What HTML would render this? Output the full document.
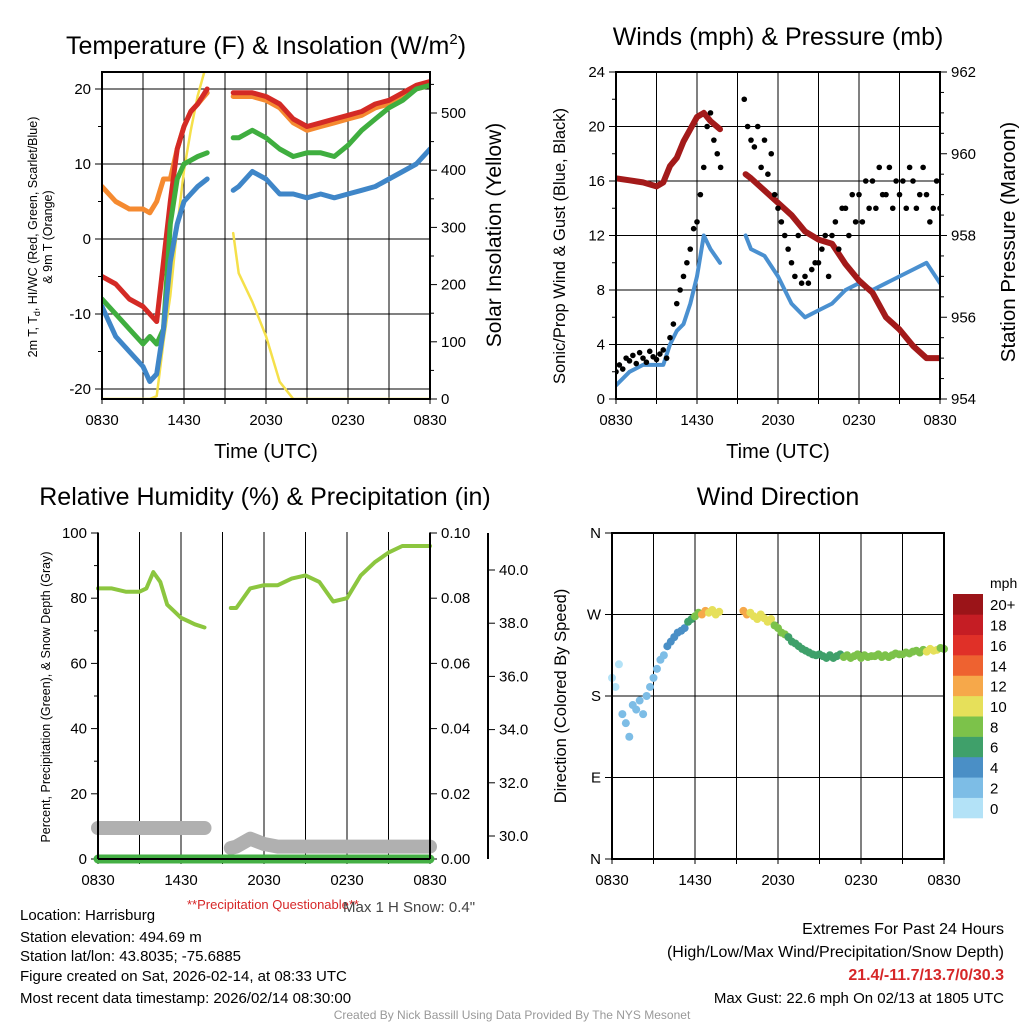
<!DOCTYPE html>
<html><head><meta charset="utf-8"><style>
html,body{margin:0;padding:0;background:#fff;}
svg{display:block;font-family:"Liberation Sans",Arial,sans-serif;}
</style></head><body>
<svg id="root" width="1024" height="1024" viewBox="0 0 1024 1024">
<defs>
<clipPath id="c1"><rect x="102" y="72" width="328" height="327"/></clipPath>
<clipPath id="c2"><rect x="616" y="72" width="324" height="327"/></clipPath>
<clipPath id="c3"><rect x="90" y="520" width="350" height="350"/></clipPath>
</defs>
<text x="266" y="54" font-size="25" text-anchor="middle">Temperature (F) &amp; Insolation (W/m<tspan dy="-10" font-size="15">2</tspan><tspan dy="10">)</tspan></text>
<text x="778" y="45" font-size="25" text-anchor="middle">Winds (mph) &amp; Pressure (mb)</text>
<text x="265" y="505" font-size="25" text-anchor="middle">Relative Humidity (%) &amp; Precipitation (in)</text>
<text x="778" y="505" font-size="25" text-anchor="middle">Wind Direction</text>
<g id="g"></g>
<text x="20" y="920" font-size="15">Location: Harrisburg</text>
<text x="20" y="942" font-size="15">Station elevation: 494.69 m</text>
<text x="20" y="961" font-size="15">Station lat/lon: 43.8035; -75.6885</text>
<text x="20" y="981" font-size="15">Figure created on Sat, 2026-02-14, at 08:33 UTC</text>
<text x="20" y="1003" font-size="15">Most recent data timestamp: 2026/02/14 08:30:00</text>
<text x="187" y="909" font-size="13" fill="#d62728">**Precipitation Questionable**</text>
<text x="343" y="912" font-size="15" fill="#444">Max 1 H Snow: 0.4"</text>
<text x="1004" y="934" font-size="16" text-anchor="end">Extremes For Past 24 Hours</text>
<text x="1004" y="957" font-size="16" text-anchor="end">(High/Low/Max Wind/Precipitation/Snow Depth)</text>
<text x="1004" y="980" font-size="16" font-weight="bold" fill="#d62728" text-anchor="end">21.4/-11.7/13.7/0/30.3</text>
<text x="1004" y="1003" font-size="15" text-anchor="end">Max Gust: 22.6 mph On 02/13 at 1805 UTC</text>
<text x="512" y="1019" font-size="12" fill="#999" text-anchor="middle">Created By Nick Bassill Using Data Provided By The NYS Mesonet</text>
</svg>
<script>
const hours=[0,1,2,3,3.5,4,4.5,5,5.5,6,6.5,7,7.7,9.6,10,11,12,13,14,15,16,17,18,19,20,21,22,23,24];
const tempRed=[-5,-6,-8,-9,-10,-11,-3,5,12,15,17,18,20,19.5,19.5,19.5,19,18,16,15,15.5,16,16.5,17,18,18.5,19.5,20.5,21];
const tempGreen=[-8,-10,-12,-14,-13,-14,-12,2,8,10,10.5,11,11.5,13.5,13.5,14.5,13.5,12,11,11.5,11.5,11,12.5,14.5,16,17.5,18.5,20,20.5];
const tempBlue=[-9,-13,-15,-17,-19,-18,-12,-3,2,5,6,7,8,6.5,7,9,8,6,6,5.5,6,5.5,6,6.5,7,8,9,10,12];
const tempOrange=[7,5,4,4,3.5,5,8,8,12,15,17,18,19.5,19,19,19,18.5,17.5,15.5,14.5,15,15.5,16,16.5,17.5,18,19,20,20.5];
const solar=[0,0,0,0,0,5,100,180,300,400,470,530,590,290,220,170,110,30,0,0,0,0,0,0,0,0,0,0,0];
const windSpeed=[1,2,2.5,2.5,2.5,4,5,5.5,7,9,12,11,10,12,11,10.5,9,7,6,6.5,7,8,8.5,8,8.5,9,9.5,10,8.5];
const pressure=[959.4,959.35,959.3,959.2,959.3,959.7,959.9,960.3,960.6,960.9,961.0,960.8,960.6,959.5,959.4,959.1,958.8,958.5,958.1,957.9,957.8,957.3,956.9,956.6,956.0,955.7,955.3,955.0,955.0];
const rh=[83,83,82,82,83,88,85,78,76,74,73,72,71,77,77,83,84,84,86,87,85,79,80,87,91,94,96,96,96];
const snowDepth=[30.3,30.3,30.3,30.3,30.3,30.3,30.3,30.3,30.3,30.3,30.3,30.3,30.3,29.55,29.6,29.9,29.7,29.6,29.6,29.6,29.6,29.6,29.6,29.6,29.6,29.6,29.6,29.6,29.6];
const precip=[0,0,0,0,0,0,0,0,0,0,0,0,0,0,0,0,0,0,0,0,0,0,0,0,0,0,0,0,0];
const fineHours=[0,0.25,0.5,0.75,1,1.25,1.5,1.75,2,2.25,2.5,2.75,3,3.25,3.5,3.75,4,4.25,4.5,4.75,5,5.25,5.5,5.75,6,6.25,6.5,6.75,7,7.25,7.5,7.75,
9.5,9.75,10,10.25,10.5,10.75,11,11.25,11.5,11.75,12,12.25,12.5,12.75,13,13.25,13.5,13.75,14,14.25,14.5,14.75,15,15.25,15.5,15.75,16,16.25,16.5,16.75,17,17.25,17.5,17.75,18,18.25,18.5,18.75,19,19.25,19.5,19.75,20,20.25,20.5,20.75,21,21.25,21.5,21.75,22,22.25,22.5,22.75,23,23.25,23.5,23.75,24];
const windGust=[2,2.5,2.2,3,2.8,3.2,2.6,3.4,3,2.7,3.5,3.1,2.9,3.3,3.6,3,4.5,5.5,7,8,9,10,11,12.5,13,15,17,20,21,19,18,17,
22,20,19,18.5,20,17,19,16.5,18,15,14,13,12,11,10,9,12,8.5,9,8.5,9.5,10,10,11,12,9,12,13,11,14,14,12,15,13,15,13,16,14,16,14,17,15,15,17,14,16,15,16,14,17,16,14,15,17,15,13,14,16,14];
const windDir=[200,190,215,160,150,135,170,165,175,160,180,190,200,210,220,225,235,240,245,250,252,255,262,265,268,272,270,274,272,275,270,273,
274,270,272,268,265,270,266,262,265,258,255,250,248,245,240,238,235,232,230,228,226,225,226,224,222,225,222,224,226,223,225,222,224,226,222,225,223,224,224,226,223,225,223,225,227,226,226,228,227,229,230,228,231,229,232,230,231,233,232];
const xTickLabels=["0830","1430","2030","0230","0830"];
const colorBins=["0","2","4","6","8","10","12","14","16","18","20+"];
const colorList=["#b3e2f7","#7dbde6","#4a8fc6","#3fa06a","#7cc24a","#e6e05a","#f6a84a","#ee6230","#e03028","#c51d24","#9b1418"];

const NS="http://www.w3.org/2000/svg";
const G=document.getElementById('g');
function mk(tag,attrs,parent){const e=document.createElementNS(NS,tag);for(const k in attrs)e.setAttribute(k,attrs[k]);(parent||G).appendChild(e);return e;}
function txt(s,x,y,size,anchor,parent,extra){const e=mk('text',Object.assign({x:x,y:y,'font-size':size,'text-anchor':anchor||'middle'},extra||{}),parent);e.textContent=s;return e;}
function linePath(xs,vals,sx,sy,maxGap){const mg=maxGap||1.5;let d='',prev=null;for(let i=0;i<xs.length;i++){const v=vals[i];if(v===null){prev=null;continue;}const cmd=(prev===null||xs[i]-prev>mg)?'M':'L';d+=cmd+sx(xs[i]).toFixed(1)+' '+sy(v).toFixed(1)+' ';prev=xs[i];}return d;}
function drawLine(vals,sx,sy,color,w,clip,name,maxGap){const p=mk('path',{d:linePath(hours,vals,sx,sy,maxGap),fill:'none',stroke:color,'stroke-width':w,'stroke-linejoin':'round','stroke-linecap':'round','clip-path':clip});return p;}
function xAxis(x0,x1,yb){const step=(x1-x0)/8;for(let i=0;i<=8;i++){const x=x0+i*step;const l=mk('line',{x1:x,y1:yb-327,x2:x,y2:yb,stroke:'#000','stroke-width':1});mk('line',{x1:x,y1:yb,x2:x,y2:yb+5,stroke:'#000'});}
 for(let i=0;i<5;i++){const t=txt(xTickLabels[i],x0+i*2*step,yb+26,15);}}
function yTicks(x,ticks,sy,labels,side,minor){ticks.forEach((v,i)=>{const y=sy(v);mk('line',{x1:x,y1:y,x2:x+(side<0?-7:7),y2:y,stroke:'#000'});const t=txt(labels[i],x+(side<0?-11:11),y+5,15,side<0?'end':'start');});
 (minor||[]).forEach(v=>{const y=sy(v);mk('line',{x1:x,y1:y,x2:x+(side<0?-4:4),y2:y,stroke:'#000'});});}
function hgrid(x0,x1,ys){ys.forEach(y=>{const l=mk('line',{x1:x0,y1:y,x2:x1,y2:y,stroke:'#000','stroke-width':1});});}

// Panel 1 temperature
const p1x=t=>102+t*328/24, p1y=v=>239-7.5*v, p1s=v=>399-v*0.572;
xAxis(102,430,399);
hgrid(102,430,[20,10,0,-10,-20].map(p1y));
yTicks(102,[20,10,0,-10,-20],p1y,["20","10","0","-10","-20"],-1,[15,5,-5,-15]);
yTicks(430,[0,100,200,300,400,500],p1s,["0","100","200","300","400","500"],1,[50,150,250,350,450,550]);
drawLine(solar,p1x,p1s,'#f5e04a',2.5,'url(#c1)','solar-insolation-line');
drawLine(tempOrange,p1x,p1y,'#f58a30',5,'url(#c1)','temp-9m-line');
drawLine(tempRed,p1x,p1y,'#d42a25',5,'url(#c1)','temp-2m-line');
drawLine(tempGreen,p1x,p1y,'#3fae3f',5,'url(#c1)','dewpoint-line');
drawLine(tempBlue,p1x,p1y,'#3f86c8',5,'url(#c1)','windchill-line');
mk('rect',{x:102,y:72,width:328,height:327,fill:'none',stroke:'#000','stroke-width':2});
txt('Time (UTC)',266,458,20);
let t1=txt('',0,0,12.5,'middle',null,{transform:'translate(37 237) rotate(-90)'});t1.innerHTML='2m T, T<tspan font-size="9" dy="3">d</tspan><tspan dy="-3">, HI/WC (Red, Green, Scarlet/Blue)</tspan>';
txt('& 9m T (Orange)',0,0,12.5,'middle',null,{transform:'translate(52 237) rotate(-90)'});
txt('Solar Insolation (Yellow)',0,0,21,'middle',null,{transform:'translate(501 235) rotate(-90)'});

// Panel 2 winds
const p2x=t=>616+t*324/24, p2y=v=>399-13.625*v, p2p=v=>399-(v-954)*40.875;
xAxis(616,940,399);
hgrid(616,940,[4,8,12,16,20].map(p2y));
yTicks(616,[0,4,8,12,16,20,24],p2y,["0","4","8","12","16","20","24"],-1,[2,6,10,14,18,22]);
yTicks(940,[954,956,958,960,962],p2p,["954","956","958","960","962"],1,[954.5,955,955.5,956.5,957,957.5,958.5,959,959.5,960.5,961,961.5]);
drawLine(windSpeed,p2x,p2y,'#4a90d0',4,'url(#c2)','wind-speed-line');
drawLine(pressure,p2x,p2p,'#a31a1a',6,'url(#c2)','pressure-line');
windGust.forEach((v,i)=>{const c=mk('circle',{cx:p2x(fineHours[i]),cy:p2y(v),r:2.8,fill:'#000','clip-path':'url(#c2)'});});
mk('rect',{x:616,y:72,width:324,height:327,fill:'none',stroke:'#000','stroke-width':2});
txt('Time (UTC)',778,458,20);
txt('Sonic/Prop Wind & Gust (Blue, Black)',0,0,16.5,'middle',null,{transform:'translate(565 246) rotate(-90)'});
txt('Station Pressure (Maroon)',0,0,20.5,'middle',null,{transform:'translate(1015 242) rotate(-90)'});

// Panel 3 RH
const p3x=t=>98+t*332/24, p3y=v=>859-3.26*v, p3p=v=>859-v*3260, p3s=v=>836-26.6*(v-30);
xAxis(98,430,859);
yTicks(98,[0,20,40,60,80,100],p3y,["0","20","40","60","80","100"],-1,[10,30,50,70,90]);
yTicks(430,[0,0.02,0.04,0.06,0.08,0.10],p3p,["0.00","0.02","0.04","0.06","0.08","0.10"],1);
mk('line',{x1:488,y1:533,x2:488,y2:859,stroke:'#000','stroke-width':2});
yTicks(488,[30,32,34,36,38,40],p3s,["30.0","32.0","34.0","36.0","38.0","40.0"],1);
drawLine(snowDepth,p3x,p3s,'#b0b0b0',14,'url(#c3)','snow-depth-line');
drawLine(precip,p3x,p3p,'#45b045',9,'url(#c3)','precipitation-line',5);
drawLine(rh,p3x,p3y,'#8cc63f',4,'url(#c3)','relative-humidity-line');
mk('line',{x1:98,y1:533,x2:98,y2:859,stroke:'#000','stroke-width':2});
mk('line',{x1:430,y1:533,x2:430,y2:859,stroke:'#000','stroke-width':2});
mk('line',{x1:98,y1:859,x2:430,y2:859,stroke:'#000','stroke-width':2});
txt('Percent, Precipitation (Green), & Snow Depth (Gray)',0,0,12.5,'middle',null,{transform:'translate(50 697) rotate(-90)'});

// Panel 4 direction
const p4x=t=>612+t*332/24, p4y=v=>859-v*326/360;
xAxis(612,944,859);
hgrid(612,944,[90,180,270].map(p4y));
yTicks(612,[0,90,180,270,360],p4y,["N","E","S","W","N"],-1);
function binColor(s){return colorList[Math.min(10,Math.floor(s/2))];}
function speedAt(t){let best=0;for(let i=0;i<hours.length;i++){if(Math.abs(hours[i]-t)<Math.abs(hours[best]-t))best=i;}return windSpeed[best];}
windDir.forEach((v,i)=>{const c=mk('circle',{cx:p4x(fineHours[i]),cy:p4y(v),r:4,fill:binColor(speedAt(fineHours[i]))});});
mk('rect',{x:612,y:533,width:332,height:326,fill:'none',stroke:'#000','stroke-width':2});
txt('Direction (Colored By Speed)',0,0,16.5,'middle',null,{transform:'translate(566 696) rotate(-90)'});
const cbTop=594,cbH=224/11;
colorList.forEach((c,i)=>{const y=cbTop+(10-i)*cbH;const r=mk('rect',{x:953,y:y,width:30,height:cbH+0.3,fill:c});const l=txt(colorBins[i],990,y+cbH/2+6,15,'start');});
txt('mph',990,588,14,'start');
</script>
</body></html>
